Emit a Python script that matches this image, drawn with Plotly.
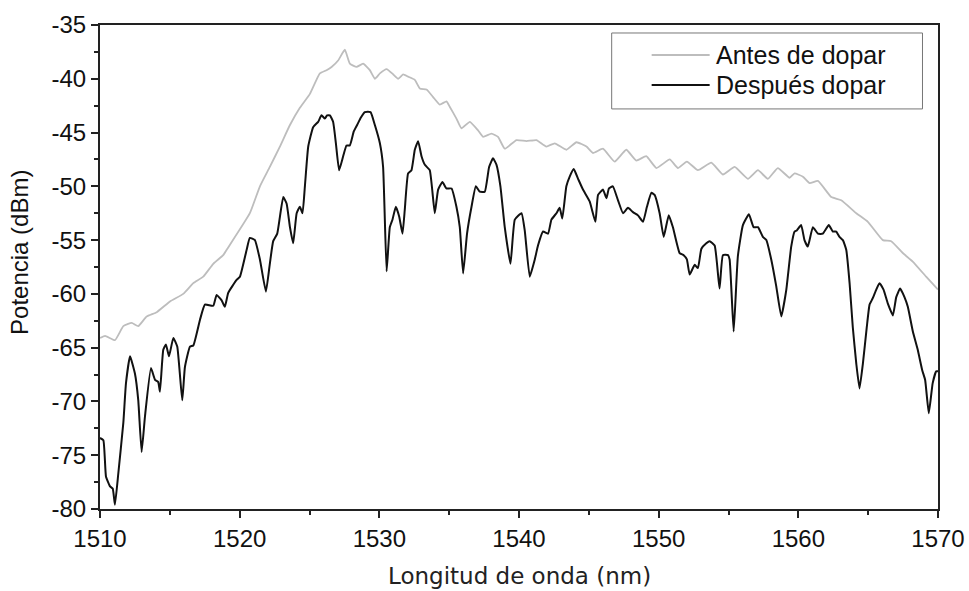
import plotly.graph_objects as go

# Espectro antes de dopar (nm, dBm)
antes_nm = [1510.0, 1510.36, 1511.07, 1511.67, 1512.27, 1512.74, 1513.34, 1514.06, 1515.01, 1515.96,
            1516.68, 1517.39, 1518.11, 1518.82, 1519.07, 1520.73, 1521.45, 1522.16, 1522.88, 1523.60,
            1524.31, 1525.03, 1525.74, 1526.22, 1526.58, 1527.05, 1527.53, 1527.89, 1528.37, 1528.84,
            1529.32, 1529.68, 1530.04, 1530.52, 1531.00, 1531.35, 1531.70, 1532.06, 1532.54, 1532.90,
            1533.38, 1533.85, 1534.33, 1534.81, 1535.04, 1535.52, 1535.88, 1536.48, 1537.07, 1537.43,
            1538.03, 1538.50, 1538.98, 1539.82, 1540.53, 1541.25, 1541.96, 1542.56, 1543.39, 1544.11,
            1544.83, 1545.30, 1546.01, 1546.85, 1547.68, 1548.40, 1549.11, 1549.84, 1550.79, 1551.38,
            1552.02, 1552.81, 1553.77, 1554.60, 1555.44, 1556.39, 1557.11, 1557.82, 1558.53, 1559.37,
            1559.73, 1560.33, 1560.81, 1561.40, 1562.36, 1563.07, 1564.15, 1564.98, 1566.05, 1566.65,
            1567.48, 1568.19, 1569.15, 1570.0]
antes_dbm = [-64.1, -63.9, -64.3, -63.0, -62.7, -63.0, -62.1, -61.7, -60.7, -60.0,
             -59.0, -58.4, -57.2, -56.4, -55.9, -52.5, -50.0, -48.2, -46.3, -44.3,
             -42.7, -41.4, -39.5, -39.2, -38.9, -38.3, -37.3, -38.6, -38.9, -38.6,
             -39.2, -40.0, -39.5, -39.1, -39.6, -40.0, -39.6, -39.8, -40.1, -40.9,
             -41.0, -41.7, -42.4, -42.1, -42.6, -43.7, -44.6, -44.0, -44.8, -45.4,
             -45.1, -45.4, -46.5, -45.7, -45.8, -45.7, -46.3, -46.0, -46.6, -45.9,
             -46.3, -46.9, -46.5, -47.7, -46.6, -47.6, -47.2, -48.3, -47.5, -48.3,
             -47.7, -48.5, -47.8, -48.9, -48.2, -49.3, -48.5, -49.3, -48.3, -49.2,
             -48.8, -49.1, -49.7, -49.5, -51.0, -51.3, -52.5, -53.3, -55.0, -55.1,
             -56.2, -57.0, -58.4, -59.6]

# Espectro después de dopar (nm, dBm)
despues_nm = [1510.0, 1510.24, 1510.43, 1510.72, 1510.91, 1511.07, 1511.31, 1511.67, 1511.86, 1512.15,
              1512.50, 1512.74, 1512.98, 1513.22, 1513.65, 1513.94, 1514.17, 1514.29, 1514.53, 1514.72,
              1514.94, 1515.25, 1515.53, 1515.89, 1516.08, 1516.44, 1516.68, 1517.16, 1517.51, 1518.11,
              1518.35, 1518.71, 1518.94, 1519.18, 1519.78, 1520.02, 1520.50, 1520.73, 1521.09, 1521.45,
              1521.88, 1522.16, 1522.40, 1522.69, 1523.12, 1523.36, 1523.60, 1523.83, 1524.08, 1524.31,
              1524.50, 1524.67, 1524.91, 1525.26, 1525.62, 1525.86, 1526.10, 1526.26, 1526.46, 1526.69,
              1526.89, 1527.12, 1527.41, 1527.65, 1527.89, 1528.17, 1528.41, 1528.68, 1528.96, 1529.37,
              1529.68, 1530.04, 1530.27, 1530.52, 1530.75, 1530.94, 1531.18, 1531.42, 1531.66, 1531.82,
              1532.06, 1532.30, 1532.54, 1532.78, 1533.02, 1533.26, 1533.61, 1533.97, 1534.21, 1534.52,
              1534.80, 1535.17, 1535.52, 1535.76, 1536.00, 1536.28, 1536.60, 1536.91, 1537.19, 1537.55,
              1537.86, 1538.14, 1538.39, 1538.67, 1538.98, 1539.39, 1539.70, 1540.18, 1540.41, 1540.77,
              1541.13, 1541.36, 1541.72, 1542.08, 1542.32, 1542.68, 1542.91, 1543.10, 1543.39, 1543.63,
              1543.92, 1544.23, 1544.58, 1545.06, 1545.47, 1545.66, 1546.01, 1546.26, 1546.44, 1546.72,
              1547.09, 1547.45, 1547.80, 1548.16, 1548.52, 1548.88, 1549.16, 1549.48, 1549.71, 1550.07,
              1550.36, 1550.72, 1551.02, 1551.50, 1551.79, 1552.02, 1552.22, 1552.58, 1552.81, 1553.06,
              1553.41, 1553.65, 1554.01, 1554.36, 1554.60, 1554.96, 1555.08, 1555.37, 1555.67, 1556.03,
              1556.46, 1556.80, 1557.11, 1557.46, 1557.71, 1558.06, 1558.42, 1558.78, 1559.14, 1559.49,
              1559.73, 1559.89, 1560.20, 1560.44, 1560.68, 1561.04, 1561.40, 1561.75, 1562.18, 1562.47,
              1562.71, 1562.95, 1563.19, 1563.43, 1563.67, 1563.90, 1564.15, 1564.38, 1564.62, 1564.90,
              1565.10, 1565.33, 1565.58, 1565.81, 1566.10, 1566.41, 1566.77, 1567.01, 1567.29, 1567.60,
              1567.84, 1568.20, 1568.55, 1568.87, 1569.08, 1569.34, 1569.62, 1569.87, 1570.0]
despues_dbm = [-73.4, -73.6, -77.0, -77.9, -78.1, -79.6, -76.7, -72.0, -68.3, -65.8,
               -67.4, -69.9, -74.7, -71.4, -66.9, -68.0, -68.2, -69.1, -65.2, -64.7,
               -65.8, -64.1, -64.9, -69.9, -66.8, -64.9, -64.8, -62.4, -61.0, -61.1,
               -60.1, -60.6, -61.2, -59.9, -58.7, -58.4, -55.9, -54.8, -55.0, -56.8,
               -59.8, -57.2, -55.1, -54.4, -51.0, -51.6, -53.8, -55.3, -52.5, -51.9,
               -52.5, -50.0, -46.3, -44.5, -44.0, -43.4, -43.7, -43.4, -43.4, -44.0,
               -46.0, -48.5, -47.2, -46.2, -46.2, -44.9, -44.3, -43.6, -43.1, -43.1,
               -44.3, -46.0, -48.2, -57.9, -53.8, -53.1, -51.9, -52.8, -54.4, -52.2,
               -48.8, -48.5, -46.6, -45.8, -47.2, -48.0, -48.5, -52.5, -50.3, -49.6,
               -50.2, -50.2, -51.9, -53.8, -58.1, -54.4, -51.9, -50.0, -50.5, -50.5,
               -48.2, -47.4, -48.0, -50.0, -53.8, -57.2, -53.1, -52.5, -54.1, -58.4,
               -56.8, -55.5, -54.2, -54.4, -53.1, -52.5, -52.0, -53.0, -50.0, -49.1,
               -48.4, -49.3, -50.3, -51.4, -53.3, -50.8, -50.3, -51.1, -50.2, -50.0,
               -51.3, -52.5, -52.0, -52.4, -52.7, -53.3, -51.9, -50.6, -50.8, -52.5,
               -54.7, -52.7, -53.8, -56.2, -56.4, -56.8, -58.2, -57.3, -57.6, -55.8,
               -55.3, -55.1, -55.5, -59.5, -56.4, -56.4, -56.8, -63.5, -56.5, -53.6,
               -52.6, -53.8, -53.8, -54.7, -55.0, -56.8, -59.3, -62.1, -59.6, -55.6,
               -54.2, -54.1, -53.6, -55.0, -55.6, -53.8, -54.4, -54.4, -53.6, -54.2,
               -54.2, -54.7, -55.0, -55.9, -59.0, -63.1, -66.5, -68.8, -66.5, -63.1,
               -61.0, -60.4, -59.6, -59.0, -59.6, -60.9, -62.0, -60.3, -59.5, -60.3,
               -61.2, -63.5, -65.2, -67.1, -68.0, -71.1, -68.3, -67.2, -67.2]

series_names = ["Antes de dopar", "Después dopar"]
series_colors = ["#bdbdbd", "#111111"]
x_ticks = [1510, 1520, 1530, 1540, 1550, 1560, 1570]
y_ticks = [-80, -75, -70, -65, -60, -55, -50, -45, -40, -35]
y_tick_labels = ["-80", "-75", "-70", "-65", "-60", "-55", "-50", "-45", "-40", "-35"]

fig = go.Figure()
fig.add_trace(go.Scatter(x=antes_nm, y=antes_dbm, mode="lines", name=series_names[0],
                         line=dict(color=series_colors[0], width=1.8, shape="spline", smoothing=0.4),
                         showlegend=False))
fig.add_trace(go.Scatter(x=despues_nm, y=despues_dbm, mode="lines", name=series_names[1],
                         line=dict(color=series_colors[1], width=2, shape="spline", smoothing=0.4),
                         showlegend=False))

tick_font = dict(family="Liberation Sans, Arial, sans-serif", size=24, color="#111111")

fig.update_layout(
    width=969, height=591,
    margin=dict(l=100, r=31, t=25, b=82),
    paper_bgcolor="white", plot_bgcolor="white",
    xaxis=dict(
        range=[1510, 1570], tickvals=x_ticks, ticks="outside", ticklen=7, tickwidth=1.5,
        tickcolor="#222", showline=True, linecolor="#222", linewidth=2, mirror=True,
        showgrid=False, zeroline=False, tickfont=tick_font, automargin=False,
        minor=dict(ticks="outside", ticklen=4, tickwidth=1.5, tickcolor="#222", dtick=5, showgrid=False),
    ),
    yaxis=dict(
        range=[-80, -35], tickvals=y_ticks, ticktext=y_tick_labels, ticks="outside", ticklen=7,
        tickwidth=1.5, tickcolor="#222", showline=True, linecolor="#222", linewidth=2, mirror=True,
        showgrid=False, zeroline=False, tickfont=tick_font, automargin=False,
        minor=dict(ticks="outside", ticklen=4, tickwidth=1.5, tickcolor="#222", dtick=2.5, showgrid=False),
    ),
)

# Títulos de los ejes
fig.add_annotation(xref="paper", yref="paper", x=0.5, y=0, yshift=-67, text="Longitud de onda (nm)",
                   showarrow=False, xanchor="center", yanchor="middle",
                   font=dict(family="DejaVu Sans, Verdana, sans-serif", size=23, color="#222"))
fig.add_annotation(xref="paper", yref="paper", x=0, xshift=-80, y=0.529, text="Potencia (dBm)",
                   showarrow=False, textangle=-90, xanchor="center", yanchor="middle",
                   font=dict(family="Liberation Sans, Arial, sans-serif", size=24, color="#111"))

# Leyenda: recuadro, muestras de línea y etiquetas
legend_box = dict(x0=0.6106, x1=0.9815, y0=0.8266, y1=0.9835)
fig.add_shape(type="rect", xref="paper", yref="paper", line=dict(color="#777", width=1),
              fillcolor="white", **legend_box)
legend_rows = [0.938, 0.876]
for name, color, yrow in zip(series_names, series_colors, legend_rows):
    fig.add_shape(type="line", xref="paper", yref="paper", x0=0.6583, x1=0.7275, y0=yrow, y1=yrow,
                  line=dict(color=color, width=2))
    fig.add_annotation(xref="paper", yref="paper", x=0.733, y=yrow, text=name, showarrow=False,
                       xanchor="left", yanchor="middle",
                       font=dict(family="Liberation Sans, Arial, sans-serif", size=25, color="#111"))

fig.write_html("out.html")
